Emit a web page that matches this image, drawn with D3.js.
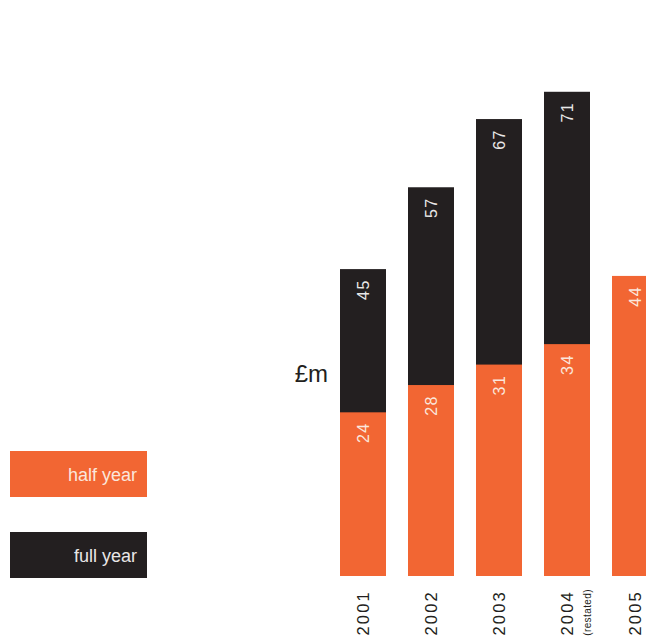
<!DOCTYPE html>
<html>
<head>
<meta charset="utf-8">
<script src="https://cdn.jsdelivr.net/npm/d3@7"></script>
<style>
html,body{margin:0;padding:0;background:#fff;overflow:hidden;}
svg{display:block;font-family:"Liberation Sans",Arial,sans-serif;}
</style>
</head>
<body>
<svg id="chart" width="646" height="639"></svg>
<script>
const years = ["2001","2002","2003","2004","2005"];
const yearNotes = ["","","","(restated)",""];
const halfYear = [24,28,31,34,44];
const fullYear = [45,57,67,71,null];
const legendLabels = ["half year","full year"];
const unitLabel = "£m";

const ORANGE = "#f26633";
const BLACK = "#231f20";

const svg = d3.select("#chart");
const x = d3.scaleBand().domain(years).range([340,658]).paddingInner(22/68).paddingOuter(0);
const y = d3.scaleLinear().domain([0,80]).range([576,30.4]);

const rows = years.map((yr,i)=>({yr, half:halfYear[i], full:fullYear[i], note:yearNotes[i]}));

// full year bars
svg.append("g").selectAll("rect").data(rows.filter(d=>d.full!=null)).join("rect")
  .attr("x",d=>x(d.yr)).attr("width",x.bandwidth())
  .attr("y",d=>y(d.full)).attr("height",d=>y(0)-y(d.full))
  .attr("fill",BLACK);
// half year bars
svg.append("g").selectAll("rect").data(rows).join("rect")
  .attr("x",d=>x(d.yr)).attr("width",x.bandwidth())
  .attr("y",d=>y(d.half)).attr("height",d=>y(0)-y(d.half))
  .attr("fill",ORANGE);

function valueLabel(sel, key, color){
  sel.append("g").selectAll("text").data(rows.filter(d=>d[key]!=null)).join("text")
    .attr("transform",d=>`translate(${x(d.yr)+x.bandwidth()/2},${y(d[key])+10}) rotate(-90)`)
    .attr("text-anchor","end")
    .attr("dy","0.35em")
    .attr("font-size",16)
    .attr("letter-spacing",1.5)
    .attr("fill",color)
    .text(d=>d[key]);
}
valueLabel(svg,"full","#e9e7e7");
valueLabel(svg,"half","#fbe6dc");

// year axis labels
svg.append("g").selectAll("text").data(rows).join("text")
  .attr("transform",d=>`translate(${x(d.yr)+x.bandwidth()/2+0.5},590) rotate(-90)`)
  .attr("text-anchor","end")
  .attr("dy","0.35em")
  .attr("font-size",16.5)
  .attr("letter-spacing",2.2)
  .attr("fill",BLACK)
  .text(d=>d.yr);
svg.append("g").selectAll("text").data(rows.filter(d=>d.note)).join("text")
  .attr("transform",d=>`translate(${x(d.yr)+x.bandwidth()/2+24},589) rotate(-90)`)
  .attr("text-anchor","end")
  .attr("font-size",10)
  .attr("letter-spacing",0.4)
  .attr("fill",BLACK)
  .text(d=>d.note);

// unit label
svg.append("text").attr("x",328).attr("y",382).attr("text-anchor","end")
  .attr("font-size",24).attr("fill",BLACK).text(unitLabel);

// legend
const legend = svg.append("g");
const legColors = [ORANGE, BLACK];
const legTop = [451, 532];
legendLabels.forEach((lab,i)=>{
  legend.append("rect").attr("x",10).attr("y",legTop[i]).attr("width",137).attr("height",46).attr("fill",legColors[i]);
  legend.append("text").attr("x",137).attr("y",legTop[i]+30).attr("text-anchor","end")
    .attr("font-size",18).attr("fill",i===0?"#fbe6dc":"#e9e7e7").text(lab);
});
</script>
</body>
</html>
